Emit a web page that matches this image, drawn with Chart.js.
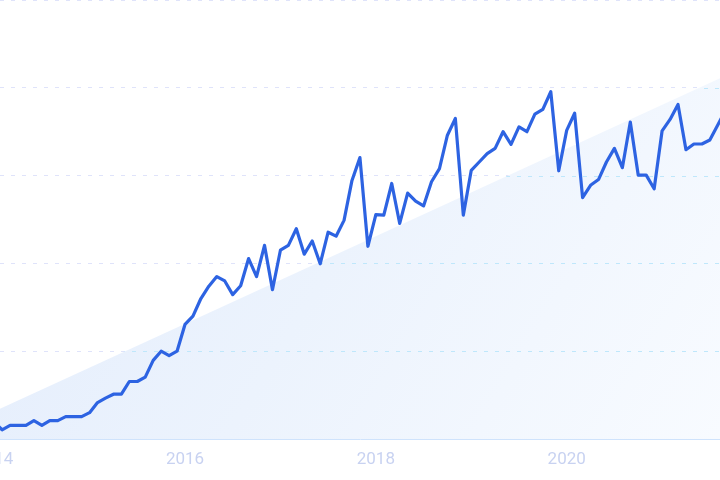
<!DOCTYPE html>
<html>
<head>
<meta charset="utf-8">
<script src="https://cdn.jsdelivr.net/npm/chart.js@4/dist/chart.umd.min.js"></script>
<style>
  html, body { margin: 0; padding: 0; background: #ffffff; overflow: hidden; }
  #wrap { width: 720px; height: 480px; position: relative; }
</style>
</head>
<body>
<div id="wrap"><canvas id="c" width="720" height="480"></canvas></div>
<script>
// ---- data ----
const startYear = 2014;               // month index 0 = Jan 2014
const monthlyValues = [
  3.8, 2.1, 3.1, 3.1, 3.1, 4.2, 3.1, 4.2, 4.2, 5.1, 5.1, 5.1,
  6.0, 8.3, 9.3, 10.2, 10.2, 13.1, 13.1, 14.1, 17.9, 20.0, 19.0, 20.0,
  26.1, 28.0, 32.0, 34.8, 37.0, 36.0, 32.9, 34.9, 41.1, 37.0, 44.1, 34.0,
  43.0, 44.1, 47.9, 42.1, 45.1, 39.9, 47.1, 46.2, 49.8, 58.9, 64.1, 43.9,
  51.1, 51.0, 58.2, 49.1, 56.0, 54.2, 53.1, 58.6, 61.6, 69.2, 73.0, 51.0,
  61.2, 63.1, 65.0, 66.2, 70.0, 67.1, 71.1, 70.0, 74.0, 75.1, 79.1, 61.1,
  70.3, 74.2, 55.0, 57.8, 59.1, 63.1, 66.2, 61.8, 72.2, 60.1, 60.1, 57.0,
  70.2, 72.8, 76.2, 65.9, 67.2, 67.2, 68.1, 71.5, 75.0
];
const trendMonths = [0, 92];
const trendValues = [6.3, 82.8];
const tickYears = [2014, 2016, 2018, 2020];
const yTicks = [0, 20, 40, 60, 80, 100];

// ---- build ----
const linePoints = monthlyValues.map((v, i) => ({ x: i, y: v }));
const trendPoints = trendMonths.map((m, i) => ({ x: m, y: trendValues[i] }));

const gridInFill = {
  id: 'gridInFill',
  afterDatasetDraw(chart, args) {
    if (args.index !== 1) return;
    const pts = args.meta.data;
    if (!pts || pts.length < 2) return;
    const ctx = chart.ctx;
    const area = chart.chartArea;
    const y = chart.scales.y;
    const bottom = y.getPixelForValue(0);
    ctx.save();
    ctx.beginPath();
    ctx.rect(area.left, area.top, area.right - area.left, area.bottom - area.top);
    ctx.clip();
    ctx.beginPath();
    ctx.moveTo(pts[0].x, pts[0].y);
    ctx.lineTo(pts[pts.length - 1].x, pts[pts.length - 1].y);
    ctx.lineTo(pts[pts.length - 1].x, bottom);
    ctx.lineTo(pts[0].x, bottom);
    ctx.closePath();
    ctx.clip();
    ctx.strokeStyle = '#bfe7fb';
    ctx.lineWidth = 1;
    ctx.setLineDash([4, 7]);
    yTicks.forEach(t => {
      if (t === 0) return;
      const py = Math.round(y.getPixelForValue(t)) + 0.5;
      ctx.beginPath();
      ctx.moveTo(area.left, py);
      ctx.lineTo(area.right, py);
      ctx.stroke();
    });
    ctx.restore();
  }
};

new Chart(document.getElementById('c'), {
  type: 'line',
  data: {
    datasets: [
      {
        data: linePoints,
        borderColor: '#2d63e2',
        borderWidth: 3.2,
        pointRadius: 0,
        tension: 0,
        borderJoinStyle: 'round',
        borderCapStyle: 'round',
        fill: false
      },
      {
        data: trendPoints,
        borderWidth: 0,
        borderColor: 'rgba(0,0,0,0)',
        pointRadius: 0,
        tension: 0,
        fill: 'origin',
        backgroundColor: (ctx) => {
          const area = ctx.chart.chartArea;
          if (!area) return '#eaf2fd';
          const g = ctx.chart.ctx.createLinearGradient(area.left, area.top, area.right, area.bottom);
          g.addColorStop(0, '#e2ecfc');
          g.addColorStop(0.5, '#ecf3fd');
          g.addColorStop(1, '#f8fbff');
          return g;
        }
      }
    ]
  },
  options: {
    responsive: false,
    animation: false,
    events: [],
    layout: { padding: { left: 0, right: 0, top: 0, bottom: -1.4 } },
    plugins: { legend: { display: false }, tooltip: { enabled: false } },
    scales: {
      x: {
        type: 'linear',
        min: 0.736,
        max: 91.28,
        z: 1,
        grid: { display: false, drawTicks: false },
        border: { display: true, color: '#cfe3fc', width: 1 },
        afterBuildTicks: (scale) => {
          scale.ticks = tickYears.map(yr => ({ value: (yr - startYear) * 12 }));
        },
        afterFit: (scale) => {
          scale.paddingLeft = 0;
          scale.paddingRight = 0;
        },
        ticks: {
          autoSkip: false,
          maxRotation: 0,
          padding: 11,
          color: '#c8d2f1',
          font: { family: 'Roboto', size: 17 },
          callback: (v) => String(startYear + Math.round(v / 12))
        }
      },
      y: {
        min: 0,
        max: 100,
        afterBuildTicks: (scale) => {
          scale.ticks = yTicks.map(v => ({ value: v }));
        },
        ticks: { display: false },
        grid: { color: '#dfe3fa', lineWidth: 1, drawTicks: false },
        border: { display: false, dash: [4, 7] }
      }
    }
  },
  plugins: [gridInFill]
});
</script>
</body>
</html>
